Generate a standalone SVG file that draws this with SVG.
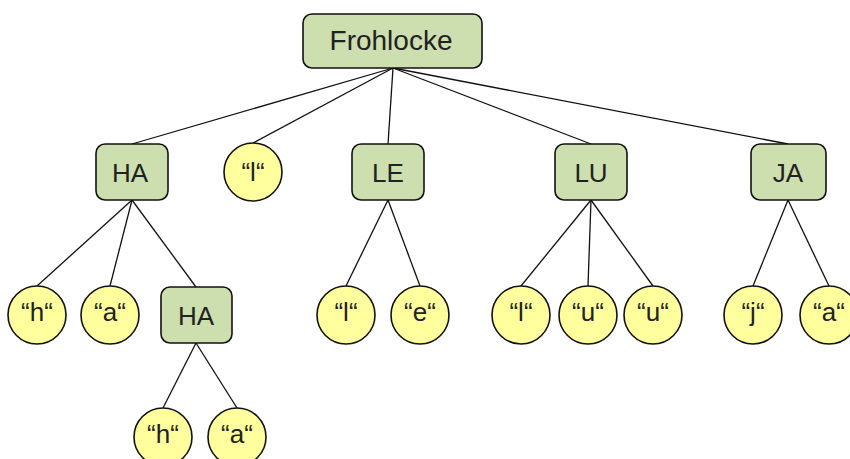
<svg xmlns="http://www.w3.org/2000/svg" width="850" height="459" viewBox="0 0 850 459">
  <style>
    .box { fill: #cddfae; stroke: #111; stroke-width: 1.6; }
    .leaf { fill: #ffff9e; stroke: #111; stroke-width: 1.6; }
    .lbl { font-family: "Liberation Sans", Arial, sans-serif; font-size: 26px; fill: #222; text-anchor: middle; }
    .big { font-size: 28px; }
    .edge { stroke: #111; stroke-width: 1.3; fill: none; }
  </style>
  <rect width="850" height="459" fill="#ffffff"/>

  <g id="connectors">
    <!-- root to first level -->
    <line class="edge" x1="393" y1="68" x2="132" y2="144"/>
    <line class="edge" x1="393" y1="68" x2="253" y2="143"/>
    <line class="edge" x1="393" y1="68" x2="388" y2="144"/>
    <line class="edge" x1="393" y1="68" x2="591" y2="144"/>
    <line class="edge" x1="393" y1="68" x2="788" y2="144"/>
    <!-- HA -->
    <line class="edge" x1="132" y1="200" x2="37" y2="286"/>
    <line class="edge" x1="132" y1="200" x2="110" y2="286"/>
    <line class="edge" x1="132" y1="200" x2="196" y2="287"/>
    <!-- LE -->
    <line class="edge" x1="388" y1="200" x2="346" y2="286"/>
    <line class="edge" x1="388" y1="200" x2="420" y2="286"/>
    <!-- LU -->
    <line class="edge" x1="591" y1="200" x2="521" y2="286"/>
    <line class="edge" x1="591" y1="200" x2="588" y2="286"/>
    <line class="edge" x1="591" y1="200" x2="653" y2="286"/>
    <!-- JA -->
    <line class="edge" x1="788" y1="200" x2="753" y2="286"/>
    <line class="edge" x1="788" y1="200" x2="829" y2="286"/>
    <!-- nested HA -->
    <line class="edge" x1="196" y1="343" x2="163" y2="408"/>
    <line class="edge" x1="196" y1="343" x2="237" y2="408"/>
  </g>

  <g id="root">
    <rect class="box" x="303" y="14" width="179" height="54" rx="9"/>
    <text class="lbl big" x="391" y="50">Frohlocke</text>
  </g>

  <g id="ha">
    <rect class="box" x="96" y="144" width="72" height="56" rx="9"/>
    <text class="lbl" x="130" y="182">HA</text>
  </g>
  <g id="l1">
    <circle class="leaf" cx="253" cy="172" r="29"/>
    <text class="lbl" x="253" y="181">“l“</text>
  </g>
  <g id="le">
    <rect class="box" x="352" y="144" width="72" height="56" rx="9"/>
    <text class="lbl" x="388" y="182">LE</text>
  </g>
  <g id="lu">
    <rect class="box" x="555" y="144" width="72" height="56" rx="9"/>
    <text class="lbl" x="591" y="182">LU</text>
  </g>
  <g id="ja">
    <rect class="box" x="751" y="144" width="75" height="56" rx="9"/>
    <text class="lbl" x="788" y="182">JA</text>
  </g>

  <g id="ha-h">
    <circle class="leaf" cx="37" cy="315" r="29"/>
    <text class="lbl" x="37" y="321">“h“</text>
  </g>
  <g id="ha-a">
    <circle class="leaf" cx="110" cy="315" r="29"/>
    <text class="lbl" x="110" y="321">“a“</text>
  </g>
  <g id="ha2">
    <rect class="box" x="161" y="287" width="71" height="56" rx="9"/>
    <text class="lbl" x="196" y="325">HA</text>
  </g>

  <g id="le-l">
    <circle class="leaf" cx="346" cy="315" r="29"/>
    <text class="lbl" x="346" y="321">“l“</text>
  </g>
  <g id="le-e">
    <circle class="leaf" cx="420" cy="315" r="29"/>
    <text class="lbl" x="420" y="321">“e“</text>
  </g>

  <g id="lu-l">
    <circle class="leaf" cx="521" cy="315" r="29"/>
    <text class="lbl" x="521" y="321">“l“</text>
  </g>
  <g id="lu-u1">
    <circle class="leaf" cx="588" cy="315" r="29"/>
    <text class="lbl" x="588" y="321">“u“</text>
  </g>
  <g id="lu-u2">
    <circle class="leaf" cx="653" cy="315" r="29"/>
    <text class="lbl" x="653" y="321">“u“</text>
  </g>

  <g id="ja-j">
    <circle class="leaf" cx="753" cy="315" r="29"/>
    <text class="lbl" x="753" y="321">“j“</text>
  </g>
  <g id="ja-a">
    <circle class="leaf" cx="829" cy="315" r="29"/>
    <text class="lbl" x="829" y="321">“a“</text>
  </g>

  <g id="ha2-h">
    <circle class="leaf" cx="163" cy="437" r="29"/>
    <text class="lbl" x="163" y="443">“h“</text>
  </g>
  <g id="ha2-a">
    <circle class="leaf" cx="237" cy="437" r="29"/>
    <text class="lbl" x="237" y="443">“a“</text>
  </g>
</svg>
